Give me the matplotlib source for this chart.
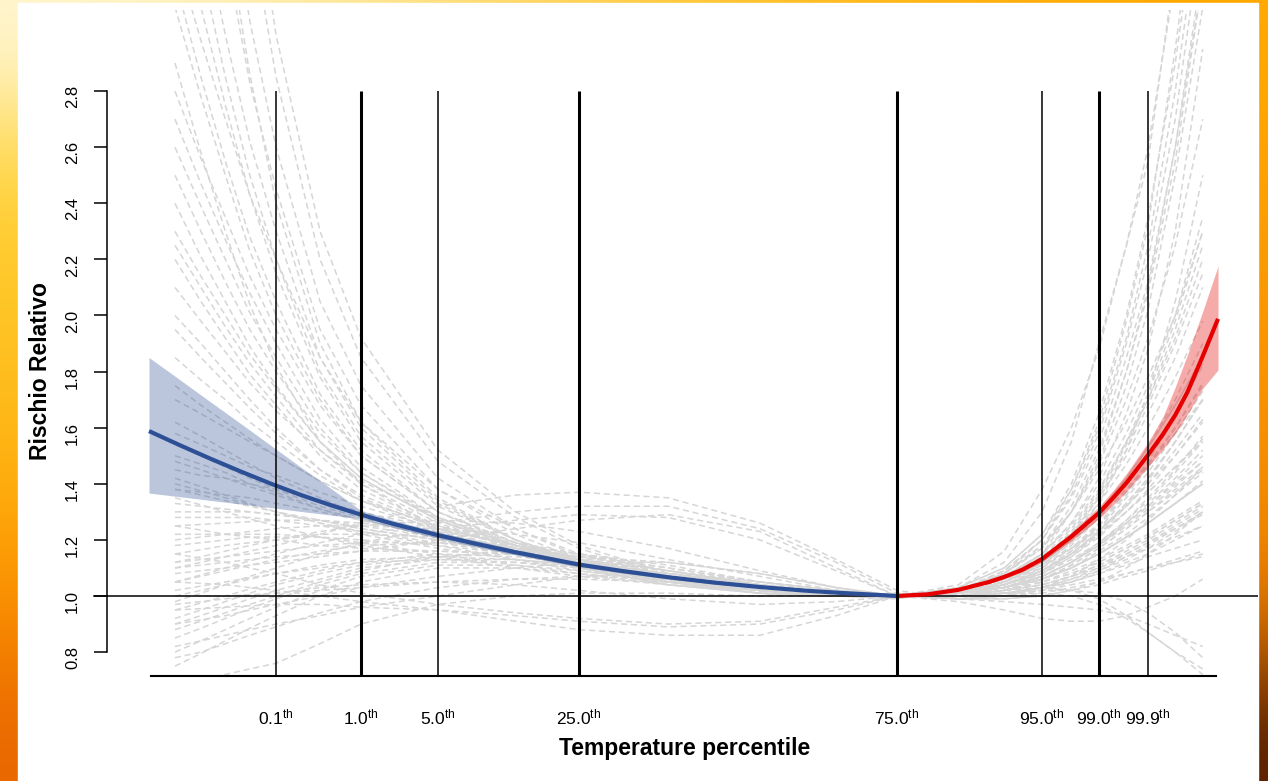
import numpy as np
import matplotlib.pyplot as plt
from matplotlib.patches import Rectangle

plt.rcParams['font.family'] = ['Liberation Sans', 'DejaVu Sans']
plt.rcParams['mathtext.fontset'] = 'custom'
plt.rcParams['mathtext.rm'] = 'Liberation Sans'

# percentili di temperatura (gradi) e relative etichette
pct_temp = [-0.84, 1.94, 4.46, 9.08, 19.49, 24.24, 26.10, 27.71]
pct_label = ['0.1', '1.0', '5.0', '25.0', '75.0', '95.0', '99.0', '99.9']
pct_thick = [False, True, False, True, True, False, True, False]

y_ticks = [0.8, 1.0, 1.2, 1.4, 1.6, 1.8, 2.0, 2.2, 2.4, 2.6, 2.8]

# curva complessiva - parte fredda (fino al 75 percentile)
cold_t = [-5.0, -4.0, -3.0, -2.0, -1.0, 0.0, 1.0, 1.94, 3.0, 4.46, 5.5, 7.0, 8.0,
          9.08, 10.5, 12.0, 13.5, 15.0, 16.5, 17.5, 18.5, 19.49]
cold_rr = [1.588, 1.538, 1.490, 1.444, 1.400, 1.359, 1.322, 1.290, 1.257, 1.217, 1.191,
           1.156, 1.135, 1.112, 1.089, 1.067, 1.048, 1.032, 1.019, 1.012, 1.006, 1.0]
cold_lo = [1.367, 1.354, 1.341, 1.328, 1.315, 1.301, 1.288, 1.276, 1.244, 1.205, 1.180,
           1.146, 1.126, 1.104, 1.082, 1.061, 1.043, 1.028, 1.016, 1.010, 1.005, 1.0]
cold_hi = [1.850, 1.772, 1.693, 1.615, 1.536, 1.457, 1.380, 1.305, 1.270, 1.229, 1.202,
           1.166, 1.144, 1.120, 1.096, 1.073, 1.053, 1.036, 1.022, 1.014, 1.007, 1.0]

# curva complessiva - parte calda
hot_t = [19.49, 20.5, 21.5, 22.5, 23.0, 23.6, 24.24, 25.2, 26.1, 26.6, 27.0, 27.71,
         28.2, 28.6, 29.0, 29.5, 30.0]
hot_rr = [1.0, 1.006, 1.022, 1.050, 1.068, 1.094, 1.132, 1.212, 1.296, 1.354, 1.403,
          1.503, 1.577, 1.645, 1.727, 1.855, 1.988]
hot_lo = [1.0, 1.005, 1.019, 1.045, 1.062, 1.087, 1.122, 1.197, 1.275, 1.328, 1.372,
          1.460, 1.523, 1.580, 1.648, 1.740, 1.806]
hot_hi = [1.0, 1.007, 1.025, 1.055, 1.074, 1.101, 1.142, 1.227, 1.318, 1.381, 1.436,
          1.548, 1.640, 1.745, 1.860, 2.015, 2.176]

# curve delle singole citta'
city_t = [-4.15, -3.3, -2.5, -1.7, -0.84, 0.6, 1.94, 4.46, 7.0, 9.08, 12.0, 15.0, 17.5,
          19.49, 21.5, 23.0, 24.24, 25.2, 26.1, 27.0, 27.71, 28.6, 29.5]
city_rr = [
    [6.5, 5.35, 4.4, 3.62, 3.0, 2.3, 1.92, 1.52, 1.3, 1.18, 1.08, 1.03, 1.01, 1.0, 1.01, 1.06, 1.15, 1.3, 1.5, 1.8, 2.1, 2.6, 3.2],
    [5.8, 4.85, 4.1, 3.4, 2.85, 2.2, 1.85, 1.48, 1.28, 1.17, 1.07, 1.02, 1.0, 0.99, 1.03, 1.12, 1.3, 1.55, 1.9, 2.25, 2.55, 3.25, 4.2],
    [5.0, 4.2, 3.6, 3.05, 2.6, 2.05, 1.75, 1.42, 1.24, 1.14, 1.06, 1.02, 1.0, 1.0, 1.01, 1.05, 1.12, 1.22, 1.35, 1.5, 1.65, 1.85, 2.1],
    [4.4, 3.8, 3.3, 2.83, 2.45, 1.95, 1.68, 1.38, 1.22, 1.13, 1.05, 1.01, 1.0, 1.0, 1.04, 1.16, 1.38, 1.6, 1.88, 2.25, 2.6, 3.2, 4.3],
    [3.9, 3.42, 3.0, 2.62, 2.3, 1.85, 1.6, 1.34, 1.2, 1.12, 1.05, 1.01, 1.0, 1.0, 1.02, 1.08, 1.18, 1.3, 1.45, 1.62, 1.78, 2.0, 2.3],
    [3.5, 3.1, 2.75, 2.43, 2.15, 1.78, 1.55, 1.32, 1.2, 1.12, 1.05, 1.02, 1.0, 1.01, 1.0, 1.03, 1.08, 1.15, 1.23, 1.33, 1.42, 1.55, 1.7],
    [3.3, 2.98, 2.7, 2.43, 2.2, 1.85, 1.62, 1.38, 1.24, 1.15, 1.07, 1.02, 1.0, 0.99, 1.02, 1.09, 1.2, 1.36, 1.58, 1.9, 2.2, 2.7, 3.4],
    [3.1, 2.78, 2.5, 2.23, 2.0, 1.7, 1.5, 1.3, 1.18, 1.11, 1.05, 1.01, 1.0, 1.0, 1.01, 1.04, 1.09, 1.15, 1.22, 1.3, 1.37, 1.46, 1.55],
    [2.8, 2.56, 2.35, 2.14, 1.95, 1.68, 1.5, 1.3, 1.19, 1.12, 1.05, 1.02, 1.0, 1.0, 1.02, 1.07, 1.15, 1.26, 1.4, 1.58, 1.75, 2.0, 2.35],
    [2.6, 2.39, 2.2, 2.01, 1.85, 1.6, 1.44, 1.27, 1.17, 1.1, 1.04, 1.01, 1.0, 1.0, 1.0, 1.02, 1.06, 1.11, 1.17, 1.24, 1.3, 1.38, 1.46],
    [2.4, 2.21, 2.05, 1.89, 1.75, 1.55, 1.42, 1.27, 1.18, 1.12, 1.06, 1.03, 1.01, 1.0, 1.01, 1.05, 1.12, 1.2, 1.3, 1.42, 1.53, 1.68, 1.85],
    [2.2, 2.05, 1.92, 1.79, 1.68, 1.5, 1.38, 1.25, 1.17, 1.11, 1.05, 1.02, 1.0, 1.0, 1.02, 1.06, 1.11, 1.17, 1.24, 1.32, 1.4, 1.5, 1.62],
    [2.0, 1.9, 1.8, 1.7, 1.6, 1.45, 1.35, 1.24, 1.16, 1.1, 1.04, 1.01, 1.0, 1.0, 1.01, 1.03, 1.07, 1.12, 1.18, 1.26, 1.33, 1.42, 1.52],
    [1.85, 1.77, 1.7, 1.62, 1.55, 1.43, 1.34, 1.23, 1.16, 1.11, 1.05, 1.02, 1.0, 1.0, 1.03, 1.1, 1.22, 1.4, 1.65, 2.0, 2.35, 2.9, 3.6],
    [1.7, 1.65, 1.6, 1.55, 1.5, 1.41, 1.34, 1.25, 1.18, 1.13, 1.07, 1.03, 1.01, 1.0, 1.01, 1.04, 1.08, 1.13, 1.19, 1.26, 1.32, 1.4, 1.48],
    [1.58, 1.54, 1.5, 1.46, 1.43, 1.37, 1.32, 1.24, 1.18, 1.13, 1.07, 1.03, 1.01, 1.0, 1.0, 1.02, 1.05, 1.08, 1.12, 1.17, 1.21, 1.27, 1.33],
    [1.45, 1.43, 1.42, 1.4, 1.38, 1.34, 1.3, 1.24, 1.18, 1.13, 1.07, 1.03, 1.01, 1.0, 1.01, 1.05, 1.1, 1.17, 1.26, 1.37, 1.47, 1.6, 1.75],
    [1.38, 1.37, 1.36, 1.35, 1.33, 1.3, 1.27, 1.22, 1.17, 1.12, 1.06, 1.02, 1.0, 1.0, 0.99, 1.0, 1.02, 1.05, 1.08, 1.12, 1.15, 1.2, 1.25],
    [1.3, 1.3, 1.3, 1.3, 1.29, 1.27, 1.25, 1.21, 1.16, 1.12, 1.06, 1.02, 1.0, 1.0, 1.02, 1.06, 1.12, 1.2, 1.3, 1.42, 1.53, 1.68, 1.85],
    [1.25, 1.255, 1.26, 1.265, 1.27, 1.27, 1.26, 1.23, 1.19, 1.15, 1.09, 1.04, 1.01, 1.0, 1.0, 1.01, 1.03, 1.06, 1.1, 1.15, 1.19, 1.25, 1.31],
    [1.2, 1.21, 1.22, 1.23, 1.24, 1.25, 1.25, 1.24, 1.22, 1.19, 1.13, 1.07, 1.02, 1.0, 1.01, 1.03, 1.06, 1.1, 1.15, 1.21, 1.26, 1.33, 1.4],
    [1.15, 1.165, 1.18, 1.19, 1.2, 1.22, 1.22, 1.21, 1.18, 1.15, 1.1, 1.05, 1.02, 1.0, 1.01, 1.04, 1.09, 1.15, 1.23, 1.32, 1.4, 1.52, 1.65],
    [1.05, 1.075, 1.1, 1.125, 1.15, 1.19, 1.22, 1.26, 1.3, 1.32, 1.32, 1.24, 1.12, 1.01, 1.0, 1.02, 1.06, 1.11, 1.17, 1.24, 1.3, 1.37, 1.45],
    [0.98, 1.01, 1.04, 1.07, 1.1, 1.15, 1.19, 1.24, 1.27, 1.29, 1.28, 1.2, 1.09, 1.0, 1.01, 1.05, 1.11, 1.19, 1.28, 1.38, 1.47, 1.58, 1.7],
    [1.1, 1.12, 1.14, 1.16, 1.18, 1.22, 1.26, 1.32, 1.36, 1.37, 1.35, 1.26, 1.13, 1.02, 0.99, 1.0, 1.01, 1.03, 1.05, 1.08, 1.1, 1.13, 1.16],
    [1.1, 1.11, 1.12, 1.13, 1.14, 1.15, 1.16, 1.16, 1.15, 1.13, 1.09, 1.05, 1.02, 1.0, 1.0, 1.02, 1.05, 1.09, 1.13, 1.18, 1.22, 1.28, 1.34],
    [1.02, 1.035, 1.05, 1.065, 1.08, 1.1, 1.12, 1.13, 1.12, 1.1, 1.07, 1.04, 1.01, 1.0, 1.01, 1.03, 1.07, 1.12, 1.19, 1.27, 1.34, 1.44, 1.55],
    [0.95, 0.975, 1.0, 1.025, 1.05, 1.09, 1.12, 1.15, 1.14, 1.12, 1.08, 1.04, 1.01, 1.0, 1.0, 1.01, 1.02, 1.04, 1.06, 1.08, 1.1, 1.12, 1.14],
    [0.9, 0.93, 0.96, 0.99, 1.02, 1.06, 1.1, 1.13, 1.13, 1.11, 1.07, 1.03, 1.01, 1.0, 0.99, 0.98, 0.97, 0.96, 0.95, 0.93, 0.9, 0.86, 0.82],
    [0.85, 0.885, 0.92, 0.955, 0.99, 1.04, 1.08, 1.12, 1.12, 1.1, 1.06, 1.03, 1.01, 1.0, 1.0, 1.02, 1.05, 1.08, 1.12, 1.17, 1.21, 1.27, 1.33],
    [0.8, 0.84, 0.88, 0.92, 0.96, 1.02, 1.07, 1.11, 1.11, 1.09, 1.05, 1.02, 1.0, 1.0, 1.01, 1.04, 1.09, 1.15, 1.22, 1.3, 1.37, 1.46, 1.56],
    [0.75, 0.795, 0.84, 0.885, 0.93, 1.0, 1.05, 1.1, 1.1, 1.08, 1.05, 1.02, 1.0, 1.0, 1.0, 1.01, 1.02, 1.02, 1.01, 0.98, 0.94, 0.87, 0.78],
    [0.95, 0.955, 0.96, 0.965, 0.97, 0.97, 0.96, 0.95, 0.93, 0.91, 0.89, 0.9, 0.95, 1.0, 1.0, 1.02, 1.04, 1.07, 1.1, 1.14, 1.17, 1.21, 1.25],
    [1.05, 1.045, 1.04, 1.03, 1.02, 1.0, 0.98, 0.95, 0.91, 0.88, 0.86, 0.86, 0.93, 1.0, 0.98, 0.95, 0.92, 0.91, 0.91, 0.93, 0.96, 1.0, 1.06],
    [1.15, 1.135, 1.12, 1.1, 1.08, 1.04, 1.01, 0.97, 0.94, 0.92, 0.9, 0.91, 0.96, 1.0, 1.01, 1.03, 1.06, 1.1, 1.15, 1.21, 1.26, 1.33, 1.41],
    [0.7, 0.705, 0.72, 0.74, 0.76, 0.83, 0.9, 0.97, 1.0, 1.01, 1.01, 1.0, 1.0, 1.0, 1.01, 1.02, 1.03, 1.02, 0.99, 0.93, 0.87, 0.8, 0.72],
    [1.0, 1.0, 1.0, 1.005, 1.01, 1.02, 1.03, 1.05, 1.06, 1.06, 1.05, 1.03, 1.01, 1.0, 1.01, 1.05, 1.11, 1.2, 1.33, 1.52, 1.72, 2.05, 2.5],
    [1.35, 1.325, 1.3, 1.275, 1.25, 1.21, 1.18, 1.14, 1.1, 1.07, 1.04, 1.02, 1.0, 1.0, 1.02, 1.08, 1.17, 1.3, 1.48, 1.75, 2.02, 2.5, 3.1],
    [1.5, 1.47, 1.44, 1.4, 1.37, 1.31, 1.27, 1.21, 1.16, 1.12, 1.07, 1.03, 1.01, 1.0, 1.02, 1.07, 1.14, 1.24, 1.37, 1.55, 1.72, 1.98, 2.3],
    [2.9, 2.58, 2.3, 2.04, 1.82, 1.55, 1.4, 1.24, 1.15, 1.1, 1.05, 1.02, 1.0, 1.0, 1.01, 1.03, 1.06, 1.1, 1.15, 1.21, 1.26, 1.33, 1.4],
    [4.8, 4.02, 3.4, 2.86, 2.4, 1.9, 1.62, 1.35, 1.2, 1.12, 1.05, 1.02, 1.0, 1.0, 1.01, 1.04, 1.1, 1.18, 1.28, 1.4, 1.5, 1.65, 1.82],
    [1.25, 1.235, 1.22, 1.21, 1.2, 1.18, 1.17, 1.16, 1.15, 1.14, 1.12, 1.08, 1.03, 1.0, 0.99, 1.0, 1.03, 1.07, 1.13, 1.2, 1.27, 1.36, 1.46],
    [0.82, 0.84, 0.86, 0.88, 0.9, 0.93, 0.96, 1.0, 1.04, 1.07, 1.08, 1.05, 1.02, 1.0, 1.01, 1.04, 1.08, 1.14, 1.22, 1.32, 1.41, 1.55, 1.7],
    [1.08, 1.09, 1.1, 1.11, 1.12, 1.14, 1.16, 1.2, 1.24, 1.27, 1.29, 1.23, 1.1, 1.0, 1.02, 1.08, 1.2, 1.38, 1.62, 1.98, 2.32, 2.95, 3.7],
    [0.9, 0.915, 0.93, 0.95, 0.97, 1.0, 1.03, 1.07, 1.1, 1.12, 1.12, 1.08, 1.03, 1.0, 0.99, 0.99, 1.0, 1.02, 1.05, 1.1, 1.15, 1.22, 1.3],
    [1.4, 1.375, 1.35, 1.325, 1.3, 1.26, 1.23, 1.18, 1.13, 1.09, 1.05, 1.02, 1.0, 1.0, 1.0, 1.01, 1.01, 1.0, 0.97, 0.92, 0.87, 0.8, 0.74],
    [1.62, 1.57, 1.52, 1.47, 1.42, 1.35, 1.29, 1.21, 1.15, 1.11, 1.06, 1.02, 1.0, 1.0, 1.02, 1.06, 1.13, 1.22, 1.33, 1.47, 1.6, 1.78, 1.98],
    [1.42, 1.39, 1.36, 1.33, 1.3, 1.26, 1.22, 1.17, 1.13, 1.1, 1.06, 1.03, 1.01, 1.0, 1.01, 1.03, 1.06, 1.1, 1.15, 1.21, 1.26, 1.33, 1.4],
    [1.18, 1.19, 1.2, 1.21, 1.21, 1.21, 1.2, 1.18, 1.15, 1.12, 1.08, 1.04, 1.01, 1.0, 1.01, 1.04, 1.08, 1.14, 1.21, 1.3, 1.38, 1.5, 1.63],
    [1.05, 1.07, 1.09, 1.11, 1.13, 1.16, 1.18, 1.19, 1.17, 1.14, 1.09, 1.04, 1.01, 1.0, 1.0, 1.02, 1.04, 1.07, 1.11, 1.16, 1.2, 1.26, 1.32],
    [2.3, 2.14, 2.0, 1.86, 1.74, 1.55, 1.42, 1.27, 1.18, 1.12, 1.06, 1.02, 1.0, 1.0, 1.02, 1.07, 1.15, 1.25, 1.38, 1.55, 1.7, 1.92, 2.2],
    [0.88, 0.91, 0.94, 0.97, 1.0, 1.05, 1.09, 1.14, 1.16, 1.15, 1.11, 1.05, 1.01, 1.0, 1.01, 1.03, 1.07, 1.12, 1.18, 1.25, 1.31, 1.39, 1.48],
    [1.33, 1.32, 1.31, 1.3, 1.29, 1.27, 1.24, 1.2, 1.15, 1.11, 1.06, 1.02, 1.0, 1.0, 1.0, 1.01, 1.03, 1.05, 1.08, 1.11, 1.14, 1.17, 1.2],
    [3.7, 3.25, 2.85, 2.5, 2.2, 1.8, 1.57, 1.33, 1.2, 1.13, 1.06, 1.02, 1.0, 1.0, 1.01, 1.05, 1.12, 1.22, 1.35, 1.52, 1.68, 1.9, 2.15],
    [1.12, 1.13, 1.14, 1.15, 1.16, 1.18, 1.19, 1.19, 1.17, 1.14, 1.1, 1.05, 1.02, 1.0, 1.0, 1.01, 1.03, 1.05, 1.09, 1.14, 1.18, 1.24, 1.3],
    [0.97, 0.98, 0.99, 1.0, 1.01, 1.03, 1.04, 1.05, 1.04, 1.02, 0.99, 0.97, 0.98, 1.0, 1.02, 1.05, 1.1, 1.17, 1.25, 1.36, 1.46, 1.6, 1.76],
    [1.55, 1.5, 1.46, 1.42, 1.38, 1.32, 1.28, 1.22, 1.17, 1.13, 1.08, 1.04, 1.01, 1.0, 1.01, 1.04, 1.09, 1.16, 1.25, 1.37, 1.48, 1.64, 1.83],
    [1.22, 1.22, 1.22, 1.22, 1.22, 1.21, 1.19, 1.15, 1.11, 1.08, 1.04, 1.01, 1.0, 1.0, 0.99, 0.99, 1.0, 1.02, 1.04, 1.07, 1.09, 1.12, 1.15],
    [2.1, 1.98, 1.87, 1.76, 1.66, 1.52, 1.41, 1.28, 1.19, 1.13, 1.07, 1.03, 1.01, 1.0, 1.02, 1.08, 1.17, 1.3, 1.47, 1.7, 1.92, 2.25, 2.7],
    [0.78, 0.8, 0.83, 0.86, 0.89, 0.94, 0.98, 1.03, 1.06, 1.07, 1.06, 1.03, 1.01, 1.0, 1.0, 1.01, 1.03, 1.06, 1.09, 1.13, 1.17, 1.23, 1.3],
    [2.7, 2.47, 2.27, 2.08, 1.9, 1.63, 1.46, 1.28, 1.18, 1.12, 1.06, 1.02, 1.0, 1.0, 1.03, 1.1, 1.22, 1.38, 1.6, 1.92, 2.25, 2.8, 3.5],
    [2.5, 2.3, 2.12, 1.95, 1.8, 1.58, 1.44, 1.28, 1.18, 1.12, 1.06, 1.02, 1.0, 1.0, 1.01, 1.04, 1.09, 1.15, 1.23, 1.33, 1.42, 1.55, 1.7],
    [2.25, 2.1, 1.96, 1.83, 1.71, 1.52, 1.4, 1.26, 1.17, 1.11, 1.05, 1.02, 1.0, 1.0, 1.02, 1.09, 1.2, 1.35, 1.55, 1.85, 2.12, 2.6, 3.25],
    [1.95, 1.85, 1.76, 1.67, 1.58, 1.45, 1.36, 1.25, 1.17, 1.12, 1.06, 1.02, 1.0, 1.0, 1.01, 1.05, 1.11, 1.19, 1.29, 1.42, 1.53, 1.7, 1.9],
    [1.75, 1.68, 1.62, 1.56, 1.5, 1.41, 1.34, 1.25, 1.18, 1.13, 1.07, 1.03, 1.01, 1.0, 1.01, 1.04, 1.09, 1.16, 1.24, 1.35, 1.44, 1.58, 1.73],
    [1.48, 1.45, 1.42, 1.39, 1.36, 1.31, 1.27, 1.21, 1.16, 1.12, 1.07, 1.03, 1.01, 1.0, 1.02, 1.08, 1.18, 1.32, 1.52, 1.8, 2.08, 2.55, 3.2],
    [1.28, 1.28, 1.28, 1.28, 1.27, 1.25, 1.23, 1.19, 1.15, 1.11, 1.06, 1.02, 1.0, 1.0, 1.01, 1.03, 1.07, 1.12, 1.18, 1.26, 1.32, 1.41, 1.5],
    [1.12, 1.14, 1.16, 1.18, 1.2, 1.23, 1.25, 1.27, 1.26, 1.23, 1.17, 1.09, 1.03, 1.0, 1.01, 1.03, 1.07, 1.12, 1.19, 1.27, 1.35, 1.45, 1.57],
    [0.92, 0.95, 0.98, 1.01, 1.04, 1.08, 1.11, 1.14, 1.15, 1.13, 1.09, 1.04, 1.01, 1.0, 1.01, 1.03, 1.06, 1.1, 1.16, 1.22, 1.28, 1.36, 1.44],
    [1.0, 1.02, 1.04, 1.06, 1.08, 1.11, 1.13, 1.14, 1.13, 1.11, 1.07, 1.03, 1.01, 1.0, 1.0, 1.02, 1.04, 1.07, 1.11, 1.15, 1.19, 1.24, 1.29],
    [3.2, 2.85, 2.55, 2.28, 2.05, 1.72, 1.52, 1.3, 1.19, 1.12, 1.05, 1.02, 1.0, 1.0, 1.02, 1.06, 1.13, 1.23, 1.36, 1.54, 1.7, 1.95, 2.25],
    [1.38, 1.36, 1.34, 1.32, 1.3, 1.27, 1.24, 1.2, 1.15, 1.11, 1.06, 1.02, 1.0, 1.0, 1.02, 1.07, 1.15, 1.26, 1.42, 1.65, 1.88, 2.3, 2.95],
]

blue = '#2c4f96'
red = '#e60000'
grey = '#d6d6d6'

fig = plt.figure(figsize=(12.68, 7.81), dpi=100)

# cornice arancione sfumata
bg = fig.add_axes([0, 0, 1, 1])
bg_rgb = np.array([
    [[255, 248, 215], [255, 205, 60], [255, 168, 0]],
    [[255, 215, 70], [255, 195, 40], [255, 160, 0]],
    [[255, 200, 40], [255, 185, 25], [252, 152, 0]],
    [[255, 190, 30], [255, 175, 15], [248, 145, 0]],
    [[255, 170, 10], [250, 160, 5], [245, 138, 0]],
    [[250, 140, 0], [240, 130, 0], [225, 118, 0]],
    [[235, 105, 0], [190, 85, 0], [85, 30, 0]],
]) / 255
bg.imshow(bg_rgb, extent=[0, 1, 0, 1], aspect='auto', interpolation='bicubic')
bg.add_patch(Rectangle((18 / 1268, 0), 1240 / 1268, 778 / 781, color='white'))
bg.set_xlim(0, 1)
bg.set_ylim(0, 1)
bg.axis('off')

ax = fig.add_axes([18 / 1268, 105 / 781, 1240 / 1268, 666 / 781])
ax.set_facecolor('none')
ax.set_xlim(-9.289, 31.309)
ax.set_ylim(0.7148, 3.0891)

for rr in city_rr:
    ax.plot(city_t, rr, color=grey, lw=1.1, ls=(0, (4, 2.5)), zorder=1)

ax.axhline(1.0, xmin=76 / 1240, color='black', lw=1.1, zorder=3)

ax.fill_between(cold_t, cold_lo, cold_hi, color=blue, alpha=0.32, lw=0, zorder=2)
ax.plot(cold_t, cold_rr, color=blue, lw=3, zorder=4, solid_capstyle='butt')
ax.fill_between(hot_t, hot_lo, hot_hi, color=red, alpha=0.33, lw=0, zorder=2)
ax.plot(hot_t, hot_rr, color=red, lw=3, zorder=4, solid_capstyle='butt')

ax.vlines(pct_temp, 0.7148, 2.8, colors='black',
          linewidths=[2.2 if t else 1.1 for t in pct_thick], zorder=5)

# assi
for s in ['top', 'right']:
    ax.spines[s].set_visible(False)
ax.spines['left'].set_position(('data', -6.375))
ax.spines['left'].set_bounds(0.8, 2.8)
ax.spines['left'].set_linewidth(1.1)
ax.spines['bottom'].set_bounds(-4.95, 29.95)
ax.spines['bottom'].set_linewidth(1.5)

ax.set_yticks(y_ticks, labels=['%.1f' % v for v in y_ticks])
ax.tick_params(axis='y', length=9.4, width=1.1, labelsize=12, labelrotation=90, pad=10)
ax.set_xticks(pct_temp, labels=[r'$\mathregular{%s^{th}}$' % p for p in pct_label])
ax.tick_params(axis='x', length=0, labelsize=12.5, pad=23)

ax.set_xlabel('Temperature percentile', fontsize=16.5, fontweight='bold')
ax.xaxis.set_label_coords(0.5375, -0.0916)
ax.set_ylabel('Rischio Relativo', fontsize=16.5, fontweight='bold')
ax.yaxis.set_label_coords(0.0274, 0.4572)

fig.savefig('out.png', dpi=100)
